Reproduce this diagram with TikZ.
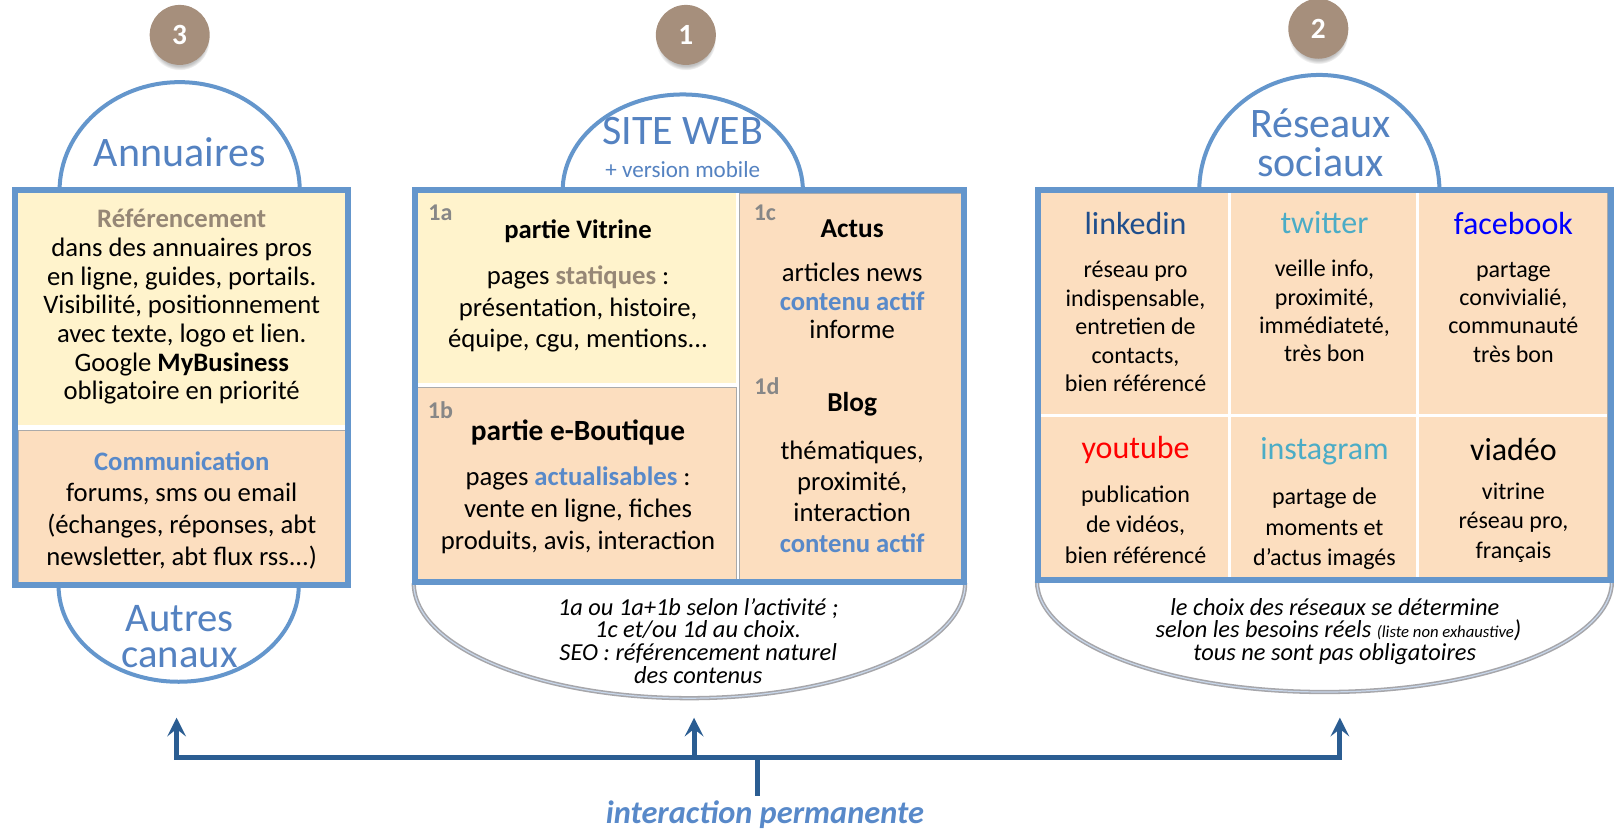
\documentclass[tikz,border=0pt]{standalone}
\usepackage{fontspec}
\setmainfont{Carlito}
\usetikzlibrary{arrows.meta,shadows}
\definecolor{bordblue}{RGB}{100,150,204}
\definecolor{titleblue}{RGB}{84,130,193}
\definecolor{yel}{RGB}{255,243,204}
\definecolor{peach}{RGB}{252,222,191}
\definecolor{badgec}{RGB}{166,143,124}
\definecolor{brgray}{RGB}{150,135,118}
\definecolor{actblue}{RGB}{88,137,201}
\definecolor{lblgray}{RGB}{135,135,135}
\definecolor{arrblue}{RGB}{43,93,146}
\definecolor{arcgray}{RGB}{166,166,170}
\definecolor{arcinner}{RGB}{200,215,235}
\definecolor{lnkblue}{RGB}{31,78,140}
\definecolor{twblue}{RGB}{75,172,198}
\definecolor{cellline}{RGB}{170,170,170}
\newcommand{\myfs}[2]{\fontsize{#1}{#2}\selectfont}
\newcommand{\hlt}[2]{\textcolor{#1}{\bfseries #2}}
\begin{document}
\begin{tikzpicture}[x=0.77pt,y=-0.77pt,
  badgen/.style={circle,fill=badgec,minimum size=45pt,inner sep=0pt,text=white,font=\bfseries\myfs{22}{22},
     circular drop shadow={shadow xshift=0pt,shadow yshift=-4pt,shadow scale=1.0,opacity=0.5}},
  titlet/.style={text=titleblue,align=center,inner sep=0pt,font=\myfs{31.5}{29.3}},
  bodyt/.style={align=center,inner sep=0pt,font=\myfs{20}{21.5}},
  headt/.style={inner sep=0pt,font=\bfseries\myfs{20}{22}},
  lblt/.style={inner sep=0pt,text=lblgray,font=\bfseries\myfs{18}{18}},
  nett/.style={inner sep=0pt,font=\myfs{24}{24}},
  desct/.style={align=center,inner sep=0pt,font=\myfs{18}{21.3}},
  notet/.style={align=center,inner sep=0pt,font=\itshape\myfs{18.3}{17}},
  bluearc/.style={draw=bordblue,line width=3pt,fill=white},
  grayarc/.style={draw=arcgray,line width=3.2pt,fill=white},
  grayarcin/.style={draw=arcinner,line width=0.9pt},
  frame/.style={draw=bordblue,line width=4.6pt},
  yelcell/.style={fill=yel},
  peachcell/.style={fill=peach,draw=cellline,line width=0.6pt},
  arrowline/.style={draw=arrblue,line width=3.8pt,line join=miter},
]
\useasboundingbox (0,0) rectangle (1572,809);

% ---------- arcs ----------
\draw[bluearc] (58,186) arc[start angle=180,end angle=360,x radius=117,y radius=106];
\draw[bluearc] (57,570) arc[start angle=180,end angle=0,x radius=117,y radius=94];
\draw[bluearc] (548,186) arc[start angle=180,end angle=360,x radius=117,y radius=94];
\draw[grayarc] (403,568) arc[start angle=180,end angle=0,x radius=268.5,y radius=112];
\draw[grayarcin] (403,568) arc[start angle=180,end angle=0,x radius=268.5,y radius=112];
\draw[bluearc] (1168,186) arc[start angle=180,end angle=360,x radius=117,y radius=113];
\draw[grayarc] (1010,566) arc[start angle=180,end angle=0,x radius=280,y radius=108];
\draw[grayarcin] (1010,566) arc[start angle=180,end angle=0,x radius=280,y radius=108];

% ---------- left box ----------
\fill[white] (15,185) rectangle (339,570);
\fill[yelcell] (18,188) rectangle (336,414);
\path[peachcell] (18,419) rectangle (336,567);
\draw[frame] (15,185) rectangle (339,570);

% ---------- middle box ----------
\fill[white] (404,185) rectangle (939,567);
\fill[yelcell] (407,188) rectangle (717,373);
\path[peachcell] (407,377) rectangle (717,564);
\path[peachcell] (720,188) rectangle (936,564);
\draw[frame] (404,185) rectangle (939,567);

% ---------- right box ----------
\fill[white] (1011,185) rectangle (1569,565);
\foreach \xa/\xb in {1014/1196,1199/1379,1382/1566}{
  \fill[peach] (\xa,188) rectangle (\xb,403);
  \fill[peach] (\xa,406) rectangle (\xb,562);
}
\draw[cellline,line width=0.6pt] (1566,188) -- (1566,562) -- (1014,562);
\draw[frame] (1011,185) rectangle (1569,565);

% ---------- badges ----------
\node[badgen] (b3) at (175,34) {3};
\node[badgen] (b1) at (668,34) {1};
\node[badgen] (b2) at (1284,28) {2};

% ---------- left texts ----------
\node[titlet] (annu) at (175,148) {Annuaires};
\node[bodyt] (ref) at (177,299) {\hlt{brgray}{Référencement}\\dans des annuaires pros\\en ligne, guides, portails.\\Visibilité, positionnement\\avec texte, logo et lien.\\Google \textbf{MyBusiness}\\obligatoire en priorité};
\node[bodyt,font=\myfs{20}{23.8}] (comm) at (177,497) {\hlt{actblue}{Communication}\\forums, sms ou email\\(échanges, réponses, abt\\newsletter, abt flux rss...)};
\node[titlet,font=\myfs{30.5}{27.7}] (autres) at (175,620) {Autres\\canaux};

% ---------- middle texts ----------
\node[titlet] (site) at (665,128) {SITE WEB};
\node[inner sep=0pt,text=titleblue,font=\myfs{17.3}{18}] (mobile) at (665,165) {+ version mobile};
\node[lblt] (l1a) at (429,207) {1a};
\node[headt] (vitrine) at (563,225) {partie Vitrine};
\node[bodyt,font=\myfs{20}{23.5}] (vitxt) at (563,301) {pages \hlt{brgray}{statiques} :\\présentation, histoire,\\équipe, cgu, mentions...};
\node[lblt] (l1c) at (745,207) {1c};
\node[headt,font=\bfseries\myfs{20.5}{22}] (actus) at (830,223) {Actus};
\node[bodyt] (actxt) at (830,293) {articles news\\\hlt{actblue}{contenu actif}\\informe};
\node[lblt] (l1d) at (747,376) {1d};
\node[headt,font=\bfseries\myfs{20.5}{22}] (blog) at (830,394) {Blog};
\node[bodyt,font=\myfs{20}{23.4}] (blogtxt) at (830,484) {thématiques,\\proximité,\\interaction\\\hlt{actblue}{contenu actif}};
\node[lblt] (l1b) at (429,399) {1b};
\node[headt,font=\bfseries\myfs{22}{24}] (bout) at (563,421) {partie e-Boutique};
\node[bodyt,font=\myfs{20}{23.8}] (boutxt) at (563,497) {pages \hlt{actblue}{actualisables} :\\vente en ligne, fiches\\produits, avis, interaction};
\node[notet] (note1) at (680,624) {1a ou 1a+1b selon l’activité ;\\1c et/ou 1d au choix.\\SEO : référencement naturel\\des contenus};

% ---------- right texts ----------
\node[titlet] (reseaux) at (1286,139) {Réseaux\\sociaux};
\node[nett,text=lnkblue] (lnk) at (1106,218) {linkedin};
\node[nett,text=twblue] (tw) at (1290,217) {twitter};
\node[nett,text=blue] (fb) at (1474,218) {facebook};
\node[desct] (lnktxt) at (1106,318) {réseau pro\\indispensable,\\entretien de\\contacts,\\bien référencé};
\node[desct] (twtxt) at (1290,303) {veille info,\\proximité,\\immédiateté,\\très bon};
\node[desct] (fbtxt) at (1474,304) {partage\\convivialié,\\communauté\\très bon};
\node[nett,text=red] (yt) at (1106,438) {youtube};
\node[nett,text=twblue] (ig) at (1290,439) {instagram};
\node[nett] (vi) at (1474,438) {viadéo};
\node[desct,font=\myfs{18}{23}] (yttxt) at (1106,511) {publication\\de vidéos,\\bien référencé};
\node[desct,font=\myfs{18}{22.7}] (igtxt) at (1290,515) {partage de\\moments et\\d’actus imagés};
\node[desct,font=\myfs{18}{22}] (vitxt2) at (1474,509) {vitrine\\réseau pro,\\français};
\node[notet] (note2) at (1300,615) {le choix des réseaux se détermine\\selon les besoins réels {\myfs{12.5}{12}(liste non exhaustive}\rlap{)}\\tous ne sont pas obligatoires};

% ---------- interaction arrows ----------
\coordinate (tipL) at (172,699);
\coordinate (tipM) at (676,699);
\coordinate (tipR) at (1305,699);
\coordinate (barL) at (172,738);
\coordinate (barM) at (676,738);
\coordinate (barR) at (1305,738);
\coordinate (hub) at (738,738);
\coordinate (stem) at (738,775);
\draw[arrowline,{Stealth[length=14pt,width=14pt,inset=5.5pt]}-{Stealth[length=14pt,width=14pt,inset=5.5pt]}] (tipL) -- (barL) -- (barR) -- (tipR);
\draw[arrowline,-{Stealth[length=14pt,width=14pt,inset=5.5pt]}] (barM) -- (tipM);
\draw[arrowline] (hub) -- (stem);
\node[inner sep=0pt,text=actblue,font=\bfseries\itshape\myfs{24.3}{24}] (inter) at (745,793) {interaction permanente};
\end{tikzpicture}
\end{document}
